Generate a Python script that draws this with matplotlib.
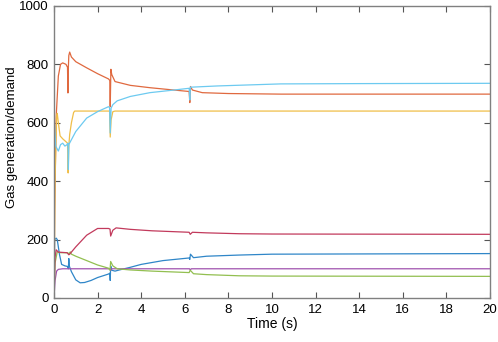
import matplotlib.pyplot as plt

plt.rcParams['font.family'] = ['Liberation Sans', 'DejaVu Sans']

# series (time in s, value)
t_orange = [0, 0.03, 0.1, 0.2, 0.3, 0.4, 0.55, 0.62, 0.64, 0.66, 0.68, 0.72, 0.8, 1.0, 1.5,
            2.0, 2.5, 2.56, 2.58, 2.61, 2.65, 2.8, 3.5, 4.4, 5.5, 6.2, 6.23, 6.26, 6.35, 6.8,
            8, 10.4, 14, 20]
v_orange = [0, 300, 620, 760, 800, 805, 800, 790, 702, 790, 830, 842, 825, 809, 788,
            768, 750, 745, 655, 783, 765, 741, 728, 720, 712, 707, 669, 724, 712, 703,
            700, 698, 698, 698]

t_lblue = [0, 0.02, 0.08, 0.2, 0.3, 0.4, 0.5, 0.6, 0.64, 0.66, 0.68, 0.75, 1.0, 1.5, 2.0,
           2.5, 2.55, 2.58, 2.62, 2.7, 2.9, 3.5, 4.4, 5.5, 6.2, 6.23, 6.26, 6.35, 7.5, 10.4,
           14, 20]
v_lblue = [0, 600, 520, 503, 525, 530, 520, 525, 530, 440, 525, 535, 570, 616, 638,
           655, 652, 565, 650, 662, 675, 690, 703, 712, 718, 678, 722, 722, 726, 733,
           734, 735]

t_yellow = [0, 0.05, 0.12, 0.15, 0.2, 0.28, 0.4, 0.55, 0.62, 0.65, 0.68, 0.72, 0.8, 0.9,
            0.95, 2.55, 2.58, 2.62, 2.7, 2.8, 20]
v_yellow = [0, 400, 620, 632, 600, 555, 545, 535, 530, 428, 520, 560, 600, 635,
            640, 640, 551, 610, 638, 640, 640]

t_blue = [0, 0.03, 0.1, 0.15, 0.25, 0.35, 0.5, 0.62, 0.66, 0.68, 0.7, 0.8, 1.0, 1.2, 1.4,
          1.7, 2.0, 2.5, 2.56, 2.58, 2.6, 2.65, 2.8, 3.0, 3.5, 4.0, 5.0, 6.2, 6.23, 6.26,
          6.4, 7.0, 8.5, 10, 20]
v_blue = [0, 200, 205, 200, 150, 115, 110, 108, 100, 135, 110, 90, 62, 52, 53,
          60, 70, 82, 85, 60, 110, 95, 92, 96, 105, 115, 128, 137, 132, 150,
          138, 143, 147, 150, 152]

t_green = [0, 0.05, 0.15, 0.3, 0.6, 0.7, 0.75, 0.8, 1.0, 1.5, 2.0, 2.5, 2.57, 2.6, 2.7,
           2.9, 3.5, 4.5, 6.2, 6.25, 6.4, 7, 8.5, 10, 20]
v_green = [0, 120, 158, 155, 155, 152, 158, 150, 143, 128, 113, 102, 95, 125, 110,
           100, 96, 92, 87, 95, 83, 80, 76, 75, 74]

t_purple = [0, 0.05, 0.12, 0.2, 0.4, 2.57, 2.6, 2.65, 6.22, 6.25, 6.3, 20]
v_purple = [0, 60, 92, 98, 100, 100, 95, 100, 100, 96, 100, 100]

t_red = [0, 0.05, 0.1, 0.2, 0.6, 0.68, 0.72, 1.0, 1.5, 2.0, 2.5, 2.57, 2.6, 2.7, 2.85,
         3.5, 4.5, 6.2, 6.25, 6.35, 7, 8.5, 10, 20]
v_red = [0, 140, 165, 157, 155, 148, 150, 175, 215, 238, 238, 236, 212, 232, 240,
         235, 230, 225, 218, 225, 223, 220, 219, 218]

fig = plt.figure(figsize=(4.98, 3.42), dpi=100)
ax = fig.add_axes([0.1084, 0.1287, 0.8755, 0.854])

ax.plot(t_blue, v_blue, color='#2f86c8', lw=0.9)
ax.plot(t_orange, v_orange, color='#e0693f', lw=0.9)
ax.plot(t_yellow, v_yellow, color='#f0be48', lw=0.9)
ax.plot(t_purple, v_purple, color='#a052ae', lw=0.9)
ax.plot(t_green, v_green, color='#92bf50', lw=0.9)
ax.plot(t_lblue, v_lblue, color='#6dcaf0', lw=0.9)
ax.plot(t_red, v_red, color='#c23a5c', lw=0.9)

ax.set_xlim(0, 20)
ax.set_ylim(0, 1000)
ax.set_xticks(range(0, 21, 2))
ax.set_yticks(range(0, 1001, 200))
ax.tick_params(direction='in', top=True, right=True, labelsize=9.5, length=4,
               color='#555555', width=0.8, pad=4)
for s in ax.spines.values():
    s.set_color('#808080')
    s.set_linewidth(1.0)
ax.set_xlabel('Time (s)', fontsize=10, labelpad=1)
ax.set_ylabel('Gas generation/demand', fontsize=9.5)
ax.yaxis.set_label_coords(-0.083, 0.55)

fig.savefig('out.png', dpi=100)
